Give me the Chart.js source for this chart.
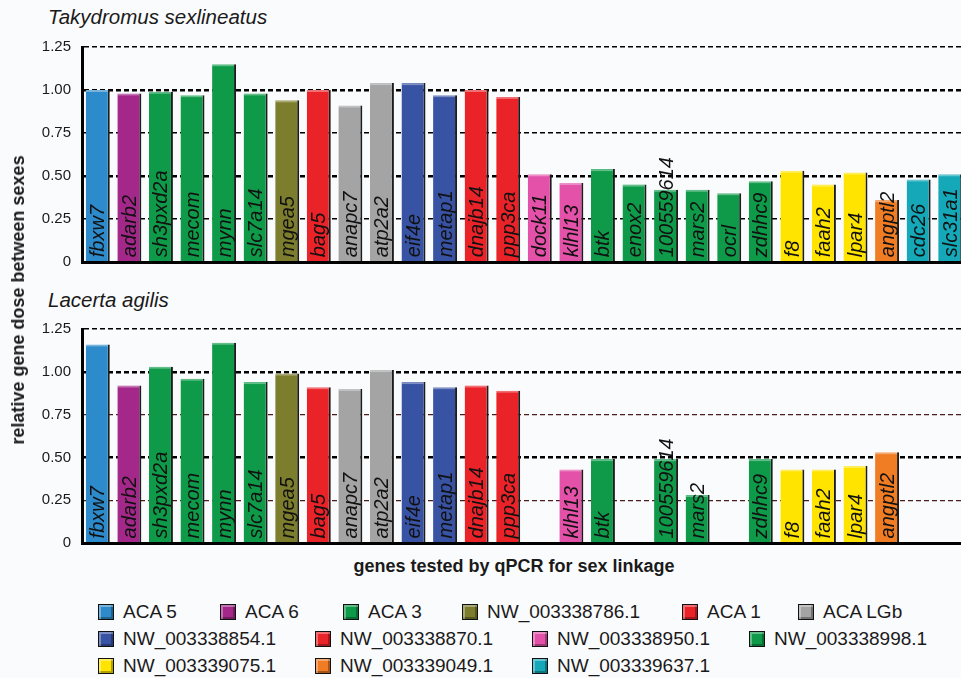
<!DOCTYPE html>
<html>
<head>
<meta charset="utf-8">
<script src="https://cdn.jsdelivr.net/npm/chart.js@4/dist/chart.umd.min.js"></script>
<style>
  html, body { margin: 0; padding: 0; width: 961px; height: 678px; overflow: hidden; background: #fafbfd; }
  body { font-family: "Liberation Sans", Arial, Helvetica, sans-serif; color: #1a1a1a; }
  #wrap { position: relative; width: 961px; height: 678px; overflow: hidden; }
  canvas { position: absolute; left: 0; }
  #chartTop { top: 0; }
  #chartBottom { top: 282px; }
  .panel-title { position: absolute; left: 48px; font-style: italic; font-size: 20.5px; line-height: 20px; white-space: nowrap; }
  .axis-title { position: absolute; font-weight: bold; font-size: 18px; line-height: 18px; white-space: nowrap; }
  #yTitle { left: 18px; top: 300px; transform: translate(-50%, -50%) rotate(-90deg); }
  #xTitle { left: 514px; top: 566px; transform: translate(-50%, -50%); }
  .lg { position: absolute; height: 20px; display: flex; align-items: center; font-size: 19px; white-space: nowrap; }
  .sw { width: 14px; height: 14px; border: 1.5px solid #111; margin-right: 9px; box-sizing: content-box;
        box-shadow: inset 2px 2px 0 rgba(255,255,255,0.35), inset -2px -2px 0 rgba(0,0,0,0.3); }
</style>
</head>
<body>
<div id="wrap">
  <div class="panel-title" style="top:7px">Takydromus sexlineatus</div>
  <div class="panel-title" style="top:290px">Lacerta agilis</div>
  <canvas id="chartTop" width="966" height="275"></canvas>
  <canvas id="chartBottom" width="966" height="274"></canvas>
  <div class="axis-title" id="yTitle">relative gene dose between sexes</div>
  <div class="axis-title" id="xTitle">genes tested by qPCR for sex linkage</div>
  <div id="legend"></div>
</div>
<script>
// Genes tested, in plotting order
const genes = ['fbxw7', 'adarb2', 'sh3pxd2a', 'mecom', 'mynn', 'slc7a14', 'mgea5', 'bag5',
  'anapc7', 'atp2a2', 'eif4e', 'metap1', 'dnajb14', 'ppp3ca', 'dock11', 'klhl13', 'btk',
  'enox2', '100559614', 'mars2', 'ocrl', 'zdhhc9', 'f8', 'faah2', 'lpar4', 'angptl2',
  'cdc26', 'slc31a1'];

// Chromosome / scaffold each gene maps to
const geneGroup = ['ACA 5', 'ACA 6', 'ACA 3', 'ACA 3', 'ACA 3', 'ACA 3', 'NW_003338786.1', 'ACA 1',
  'ACA LGb', 'ACA LGb', 'NW_003338854.1', 'NW_003338854.1', 'NW_003338870.1', 'NW_003338870.1',
  'NW_003338950.1', 'NW_003338950.1', 'NW_003338998.1', 'NW_003338998.1', 'NW_003338998.1',
  'NW_003338998.1', 'NW_003338998.1', 'NW_003338998.1', 'NW_003339075.1', 'NW_003339075.1',
  'NW_003339075.1', 'NW_003339049.1', 'NW_003339637.1', 'NW_003339637.1'];

// Relative gene dose (female / male) per species; null = not tested
const takydromusDose = [1.00, 0.98, 0.99, 0.97, 1.15, 0.98, 0.94, 1.00, 0.91, 1.04, 1.04, 0.97,
  1.00, 0.96, 0.51, 0.46, 0.54, 0.45, 0.42, 0.42, 0.40, 0.47, 0.53, 0.45, 0.52, 0.36, 0.48, 0.51];
const lacertaDose = [1.16, 0.92, 1.03, 0.96, 1.17, 0.94, 0.99, 0.91, 0.90, 1.01, 0.94, 0.91,
  0.92, 0.89, null, 0.43, 0.49, null, 0.49, 0.28, null, 0.49, 0.43, 0.43, 0.45, 0.53, null, null];

// Legend entries and their colours
const groupNames = ['ACA 5', 'ACA 6', 'ACA 3', 'NW_003338786.1', 'ACA 1', 'ACA LGb',
  'NW_003338854.1', 'NW_003338870.1', 'NW_003338950.1', 'NW_003338998.1',
  'NW_003339075.1', 'NW_003339049.1', 'NW_003339637.1'];
const groupColors = ['#2e8bcb', '#a3288a', '#0f9a4a', '#7d7d2e', '#ea2329', '#a4a4a4',
  '#3852a4', '#ea2329', '#e352a8', '#0f9a4a', '#ffe400', '#f07c24', '#14a8b8'];

// Y axis ticks
const yTicks = [0, 0.25, 0.5, 0.75, 1.0, 1.25];

const FONT = '"Liberation Sans", Arial, Helvetica, sans-serif';
const barColors = geneGroup.map(g => groupColors[groupNames.indexOf(g)]);

// Gene names written vertically inside each bar, plus a light bevel on the bar top
const barDecor = {
  id: 'barDecor',
  afterDatasetsDraw(chart) {
    const ctx = chart.ctx;
    const meta = chart.getDatasetMeta(0);
    const vals = chart.data.datasets[0].data;
    const labels = chart.data.labels;
    meta.data.forEach((bar, i) => {
      if (vals[i] == null) return;
      const p = bar.getProps(['x', 'y', 'base', 'width'], true);
      const left = p.x - p.width / 2;
      ctx.save();
      ctx.fillStyle = 'rgba(255,255,255,0.35)';
      ctx.fillRect(left, p.y, p.width - 2, 2);
      ctx.restore();

      ctx.save();
      ctx.translate(p.x + 1, p.base - 4);
      ctx.rotate(-Math.PI / 2);
      ctx.font = 'italic 20px ' + FONT;
      ctx.fillStyle = '#111';
      ctx.textAlign = 'left';
      ctx.textBaseline = 'middle';
      ctx.fillText(labels[i], 0, 0);
      ctx.restore();
    });
  }
};

function makeChart(canvasId, values, thinMinor) {
  const major = v => Math.abs(v - 1) < 1e-6 || Math.abs(v - 0.5) < 1e-6;
  return new Chart(document.getElementById(canvasId), {
    type: 'bar',
    data: {
      labels: genes,
      datasets: [{
        data: values,
        backgroundColor: barColors,
        borderColor: '#1c1c1c',
        borderWidth: { top: 0, left: 0, right: 2, bottom: 0 },
        borderSkipped: 'start',
        barPercentage: 0.76,
        categoryPercentage: 1.0
      }]
    },
    options: {
      responsive: false,
      animation: false,
      devicePixelRatio: 1,
      layout: { padding: { top: 47, bottom: 13, left: 0, right: 0 } },
      plugins: { legend: { display: false }, tooltip: { enabled: false } },
      scales: {
        x: {
          grid: { display: false, drawTicks: false },
          ticks: { display: false },
          border: { display: true, width: 3, color: '#000', z: 1 },
          afterFit(s) { s.height = 0; }
        },
        y: {
          min: 0,
          max: 1.25,
          afterBuildTicks(s) { s.ticks = yTicks.map(v => ({ value: v })); },
          ticks: {
            padding: 11,
            color: '#1a1a1a',
            font: { family: FONT, size: 15 },
            callback: v => (v === 0 ? '0' : v.toFixed(2))
          },
          grid: {
            drawTicks: false,
            color: c => (thinMinor && !major(c.tick.value) && c.tick.value < 1.2) ? '#4a1c1c' : '#000',
            lineWidth: c => {
              const v = c.tick.value;
              if (major(v)) return 2.4;
              if (thinMinor && v < 1.2) return 1.2;
              return 1.6;
            }
          },
          border: { display: true, width: 3, color: '#000', z: 1, dash: [5, 3] },
          afterFit(s) { s.width = 82; s.paddingTop = 0; s.paddingBottom = 0; }
        }
      }
    },
    plugins: [barDecor]
  });
}

makeChart('chartTop', takydromusDose, false);
makeChart('chartBottom', lacertaDose, true);

// Legend layout
const legendSlots = [[98, 612], [220, 612], [343, 612], [462, 612], [682, 612], [798, 612],
  [98, 639], [315, 639], [532, 639], [749, 639], [98, 666], [315, 666], [532, 666]];
const legend = document.getElementById('legend');
groupNames.forEach((name, i) => {
  const item = document.createElement('div');
  item.className = 'lg';
  item.style.left = legendSlots[i][0] + 'px';
  item.style.top = (legendSlots[i][1] - 10) + 'px';
  const sw = document.createElement('span');
  sw.className = 'sw';
  sw.style.background = groupColors[i];
  const tx = document.createElement('span');
  tx.textContent = name;
  item.appendChild(sw);
  item.appendChild(tx);
  legend.appendChild(item);
});
</script>
</body>
</html>
